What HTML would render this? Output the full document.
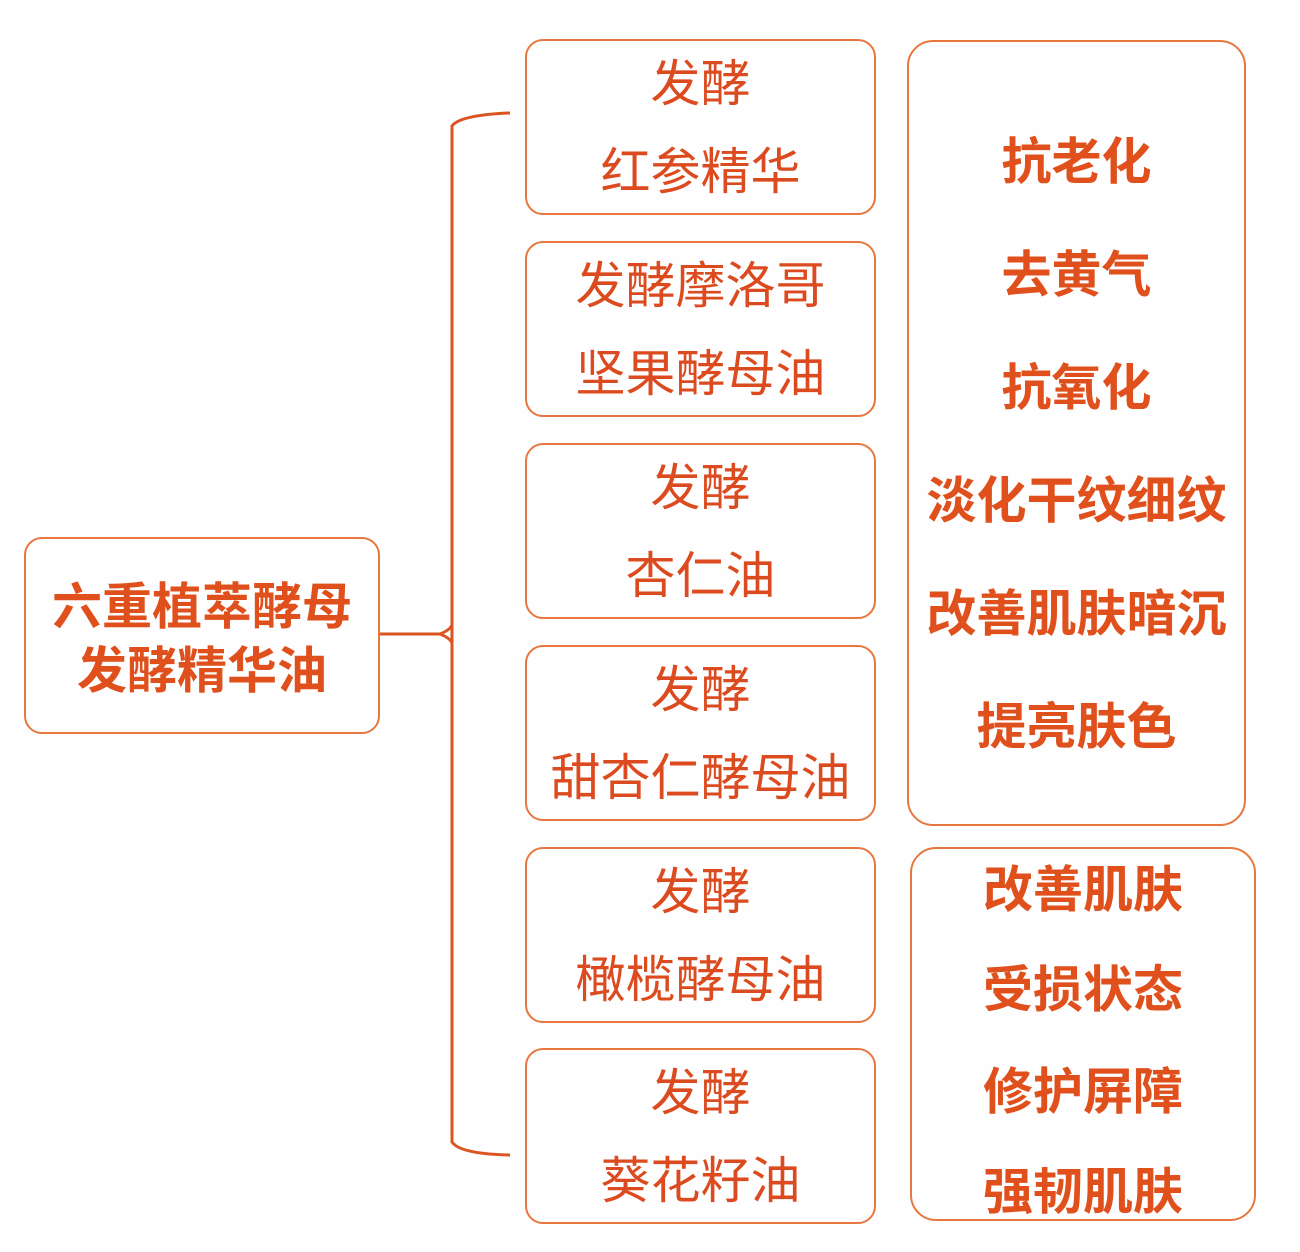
<!DOCTYPE html>
<html><head><meta charset="utf-8"><style>
body{margin:0;width:1300px;height:1252px;background:#fefefe;position:relative;overflow:hidden;font-family:"Liberation Sans","Noto Sans CJK SC",sans-serif;}
.b{position:absolute;border:2px solid #e8773f;border-radius:18px;box-sizing:border-box;}
.t{position:absolute;left:0;width:100%;text-align:center;color:#dc4b1f;font-size:50px;line-height:60px;white-space:nowrap;}
.bd{font-weight:bold;color:#e0501c;}
</style></head><body>
<svg width="1300" height="1252" style="position:absolute;left:0;top:0">
<path d="M510 113 Q460 115 452 126 L452 1142 Q460 1154 510 1155" fill="none" stroke="#dc5420" stroke-width="3"/>
<path d="M378 634 L440 634 Q450 630 452 625 M440 634 Q450 638 452 643" fill="none" stroke="#dc5420" stroke-width="3"/>
</svg>
<div class="b" style="left:24px;top:537px;width:356px;height:197px">
<div class="t bd" style="top:38px">六重植萃酵母</div>
<div class="t bd" style="top:102px">发酵精华油</div></div>
<div class="b" style="left:525px;top:39px;width:351px;height:176px"><div class="t" style="top:13px">发酵</div><div class="t" style="top:101px">红参精华</div></div>
<div class="b" style="left:525px;top:241px;width:351px;height:176px"><div class="t" style="top:13px">发酵摩洛哥</div><div class="t" style="top:101px">坚果酵母油</div></div>
<div class="b" style="left:525px;top:443px;width:351px;height:176px"><div class="t" style="top:13px">发酵</div><div class="t" style="top:101px">杏仁油</div></div>
<div class="b" style="left:525px;top:645px;width:351px;height:176px"><div class="t" style="top:13px">发酵</div><div class="t" style="top:101px">甜杏仁酵母油</div></div>
<div class="b" style="left:525px;top:847px;width:351px;height:176px"><div class="t" style="top:13px">发酵</div><div class="t" style="top:101px">橄榄酵母油</div></div>
<div class="b" style="left:525px;top:1048px;width:351px;height:176px"><div class="t" style="top:13px">发酵</div><div class="t" style="top:101px">葵花籽油</div></div>
<div class="b" style="left:907px;top:40px;width:339px;height:786px;border-radius:26px">
<div class="t bd" style="top:90px">抗老化</div>
<div class="t bd" style="top:203px">去黄气</div>
<div class="t bd" style="top:316px">抗氧化</div>
<div class="t bd" style="top:429px">淡化干纹细纹</div>
<div class="t bd" style="top:542px">改善肌肤暗沉</div>
<div class="t bd" style="top:655px">提亮肤色</div></div>
<div class="b" style="left:910px;top:847px;width:346px;height:374px;border-radius:26px">
<div class="t bd" style="top:11px">改善肌肤</div>
<div class="t bd" style="top:111px">受损状态</div>
<div class="t bd" style="top:213px">修护屏障</div>
<div class="t bd" style="top:313px">强韧肌肤</div></div>
</body></html>
